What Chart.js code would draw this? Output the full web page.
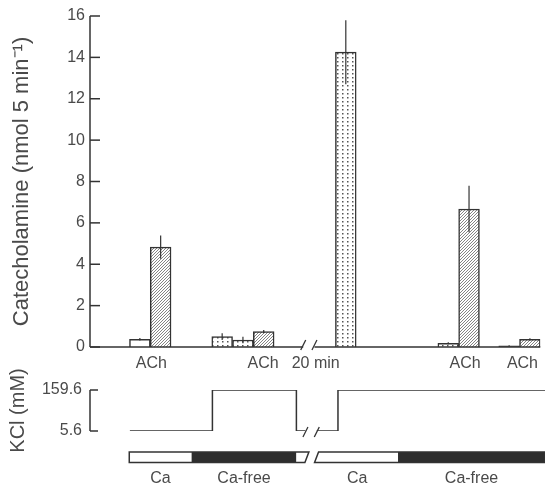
<!DOCTYPE html>
<html>
<head>
<meta charset="utf-8">
<script src="https://cdn.jsdelivr.net/npm/chart.js@4.4.0/dist/chart.umd.min.js"></script>
<style>
  html, body { margin: 0; padding: 0; background: #fff; }
  #wrap { position: relative; width: 545px; height: 484px; }
  #wrap canvas { position: absolute; left: 0; top: 0; }
</style>
</head>
<body>
<div id="wrap">
  <canvas id="cat" width="545" height="484" style="width:545px;height:484px"></canvas>
  <canvas id="kcl" width="545" height="484" style="width:545px;height:484px"></canvas>
</div>
<script>
// x axis is in 5-min collection periods (one bar = one period)
const X_MAX = 21.67;
const axisBreak = [10.26, 10.8];

// catecholamine output per period
const barPos  = [2.4, 3.4, 6.36, 7.36, 8.36, 12.31, 17.24, 18.24, 20.17, 21.17];
const barMean = [0.37, 4.83, 0.50, 0.34, 0.74, 14.25, 0.18, 6.67, 0.06, 0.37];
const barSem  = [0.06, 0.56, 0.16, 0.16, 0.08, 1.55, 0.05, 1.12, 0.02, 0.05];
const barKind = ['open', 'hatched', 'dotted', 'dotted', 'hatched', 'dotted', 'dotted', 'hatched', 'dark', 'hatched'];

// stimulus labels under the bars
const stimPos    = [2.95, 8.33, 10.86, 18.05, 20.81];
const stimLabels = ['ACh', 'ACh', '20 min', 'ACh', 'ACh'];

// KCl trace (null = axis break)
const kclTime  = [1.9, 5.83, 9.83, 10.26, 10.5, 10.8, 11.81, 21.67];
const kclConc  = [5.6, 159.6, 5.6, 5.6, null, 5.6, 159.6, 159.6];
const kclTicks = [5.6, 159.6];

// bathing medium
const bathFrom   = [1.87, 4.84, 9.83, 10.79, 14.67];
const bathTo     = [4.84, 9.83, 10.33, 14.67, 21.67];
const bathMedium = ['Ca', 'Ca-free', 'Ca', 'Ca', 'Ca-free'];

const INK = '#333';
const TXT = '#4a4a4a';
Chart.defaults.font.family = '"Liberation Sans", Arial, sans-serif';
Chart.defaults.color = TXT;

// fill patterns
function makePattern(kind) {
  const c = document.createElement('canvas');
  const g = c.getContext('2d');
  if (kind === 'dotted') {
    c.width = 5; c.height = 4;
    g.fillStyle = '#fff'; g.fillRect(0, 0, 5, 4);
    g.fillStyle = '#555'; g.fillRect(2, 1, 1.5, 1.5);
  } else {
    c.width = 3; c.height = 3;
    g.fillStyle = '#fff'; g.fillRect(0, 0, 3, 3);
    g.strokeStyle = '#777'; g.lineWidth = 0.9;
    g.beginPath();
    g.moveTo(0, 3); g.lineTo(3, 0);
    g.moveTo(-1, 1); g.lineTo(1, -1);
    g.moveTo(2, 4); g.lineTo(4, 2);
    g.stroke();
  }
  return g.createPattern(c, 'repeat');
}
const fills = { open: '#fff', dotted: makePattern('dotted'), hatched: makePattern('hatched'), dark: '#555' };

function line(ctx, x1, y1, x2, y2) { ctx.beginPath(); ctx.moveTo(x1, y1); ctx.lineTo(x2, y2); ctx.stroke(); }
function breakMark(ctx, x, y) { line(ctx, x - 2.5, y + 5, x + 2.5, y - 5); }

// --- top chart decorations: axis, inward ticks, broken x axis, error bars
const catDecor = {
  id: 'catDecor',
  beforeDraw(chart) {
    const ctx = chart.ctx;
    ctx.save(); ctx.fillStyle = '#fff'; ctx.fillRect(0, 0, chart.width, chart.height); ctx.restore();
  },
  afterDraw(chart) {
    const { ctx, chartArea: a, scales: { x, y } } = chart;
    ctx.save();
    ctx.strokeStyle = INK; ctx.lineWidth = 1.5;
    line(ctx, a.left, a.top, a.left, a.bottom);
    y.ticks.forEach(t => { const py = y.getPixelForValue(t.value); line(ctx, a.left, py, a.left + 10, py); });
    const b0 = x.getPixelForValue(axisBreak[0]), b1 = x.getPixelForValue(axisBreak[1]);
    line(ctx, a.left, a.bottom, b0, a.bottom);
    line(ctx, b1, a.bottom, a.right, a.bottom);
    ctx.lineWidth = 1.3;
    breakMark(ctx, b0, a.bottom - 2); breakMark(ctx, b1, a.bottom - 2);
    // error bars
    ctx.lineWidth = 1.2;
    chart.data.datasets.forEach((ds, di) => {
      chart.getDatasetMeta(di).data.forEach((el, j) => {
        const p = ds.data[j];
        line(ctx, el.x, y.getPixelForValue(p.y - p.sem), el.x, y.getPixelForValue(p.y + p.sem));
      });
    });
    ctx.restore();
  }
};

const kinds = ['open', 'dotted', 'hatched', 'dark'];
const barSets = kinds.map(k => ({
  data: barPos.map((x, i) => barKind[i] === k ? { x: x, y: barMean[i], sem: barSem[i] } : null).filter(Boolean),
  backgroundColor: fills[k],
  borderColor: INK,
  borderWidth: 1.5,
  grouped: false,
  barPercentage: 1,
  categoryPercentage: 1
}));

new Chart(document.getElementById('cat'), {
  type: 'bar',
  data: { datasets: barSets },
  options: {
    responsive: false,
    animation: false,
    layout: { padding: { top: 16, left: 0, right: 0, bottom: 0 } },
    plugins: { legend: { display: false }, tooltip: { enabled: false } },
    scales: {
      x: {
        type: 'linear', min: 0, max: X_MAX, offset: false,
        grid: { display: false, drawTicks: false },
        border: { display: false },
        afterBuildTicks: s => { s.ticks = stimPos.map(v => ({ value: v })); },
        afterFit: s => { s.height = 137; },
        ticks: { autoSkip: false, maxRotation: 0, padding: 7, font: { size: 16 }, callback: (v, i) => stimLabels[i] }
      },
      y: {
        min: 0, max: 16,
        grid: { display: false, drawTicks: false },
        border: { display: false },
        afterFit: s => { s.width = 90; },
        ticks: { stepSize: 2, padding: 5, font: { size: 16 } },
        title: { display: true, text: 'Catecholamine (nmol 5 min⁻¹)', font: { size: 22 }, color: TXT, padding: { top: 9, bottom: 0 } }
      }
    }
  },
  plugins: [catDecor]
});

// --- bottom chart decorations: bracket axis, line break, bathing-medium band
const kclDecor = {
  id: 'kclDecor',
  afterDraw(chart) {
    const { ctx, chartArea: a, scales: { x, y } } = chart;
    ctx.save();
    ctx.strokeStyle = INK; ctx.lineWidth = 1.5;
    line(ctx, a.left, a.top, a.left, a.bottom);
    kclTicks.forEach(v => { const py = y.getPixelForValue(v); line(ctx, a.left, py, a.left + 8, py); });
    ctx.lineWidth = 1.3;
    breakMark(ctx, x.getPixelForValue(axisBreak[0]), a.bottom + 1);
    breakMark(ctx, x.getPixelForValue(axisBreak[1]), a.bottom + 1);
    // band
    const top = a.bottom + 21, bot = a.bottom + 31.5;
    bathFrom.forEach((f, i) => {
      ctx.fillStyle = bathMedium[i] === 'Ca' ? '#fff' : '#2e2e2e';
      const x0 = x.getPixelForValue(f), x1 = x.getPixelForValue(bathTo[i]);
      const sl = f > axisBreak[0] && f < axisBreak[1] + 0.1 ? 2 : 0;
      const sr = bathTo[i] > axisBreak[0] && bathTo[i] < axisBreak[1] ? 2 : 0;
      ctx.beginPath();
      ctx.moveTo(x0 + sl, top); ctx.lineTo(x1 + sr, top); ctx.lineTo(x1 - sr, bot); ctx.lineTo(x0 - sl, bot);
      ctx.closePath(); ctx.fill();
    });
    // outline each run of the band
    ctx.lineWidth = 1.5;
    const runs = [[bathFrom[0], bathTo[2], 0, 2], [bathFrom[3], bathTo[4], 2, 0]];
    runs.forEach(r => {
      const x0 = x.getPixelForValue(r[0]), x1 = x.getPixelForValue(r[1]);
      ctx.beginPath();
      ctx.moveTo(x0 + r[2], top); ctx.lineTo(x1 + r[3], top); ctx.lineTo(x1 - r[3], bot); ctx.lineTo(x0 - r[2], bot);
      ctx.closePath(); ctx.stroke();
    });
    ctx.restore();
  }
};

const bathLabelIdx = bathFrom.map((f, i) => i).filter(i => bathTo[i] - bathFrom[i] > 1);

new Chart(document.getElementById('kcl'), {
  type: 'line',
  data: {
    datasets: [{
      data: kclTime.map((t, i) => ({ x: t, y: kclConc[i] })),
      stepped: 'before',
      borderColor: INK,
      borderWidth: 1.5,
      pointRadius: 0,
      fill: false,
      spanGaps: false
    }]
  },
  options: {
    responsive: false,
    animation: false,
    layout: { padding: { top: 390, left: 0, right: 0, bottom: 0 } },
    plugins: { legend: { display: false }, tooltip: { enabled: false } },
    scales: {
      x: {
        type: 'linear', min: 0, max: X_MAX,
        grid: { display: false, drawTicks: false },
        border: { display: false },
        afterBuildTicks: s => { s.ticks = bathLabelIdx.map(i => ({ value: (bathFrom[i] + bathTo[i]) / 2 })); },
        afterFit: s => { s.height = 53; },
        ticks: { autoSkip: false, maxRotation: 0, padding: 38, font: { size: 16 }, callback: (v, i) => bathMedium[bathLabelIdx[i]] }
      },
      y: {
        min: 5.6, max: 159.6,
        grid: { display: false, drawTicks: false },
        border: { display: false },
        afterBuildTicks: s => { s.ticks = kclTicks.map(v => ({ value: v })); },
        afterFit: s => { s.width = 90; },
        ticks: { padding: 8, font: { size: 16 }, callback: v => v.toFixed(1) },
        title: { display: true, text: 'KCl (mM)', font: { size: 20 }, color: TXT, padding: { top: 6, bottom: 0 } }
      }
    }
  },
  plugins: [kclDecor]
});
</script>
</body>
</html>
